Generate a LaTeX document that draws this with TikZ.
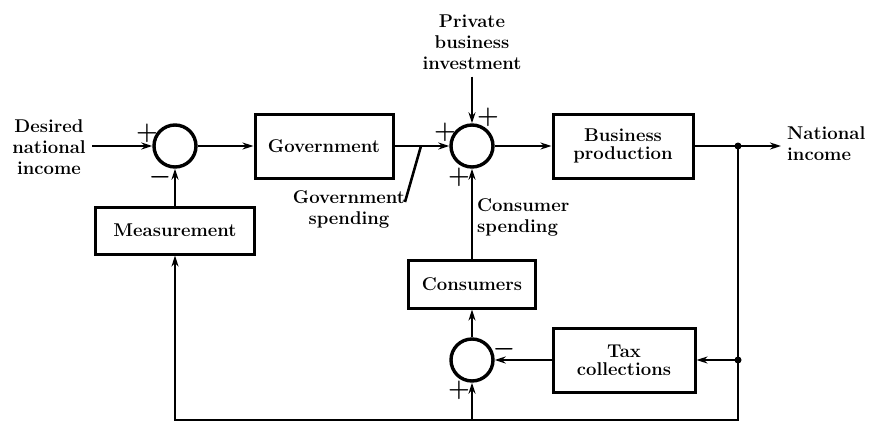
\documentclass[tikz,border=0pt]{standalone}
\usetikzlibrary{arrows.meta}
\begin{document}
\begin{tikzpicture}[x=1pt,y=-1pt,
  lbl/.style={font=\fontsize{18.5}{21}\selectfont\bfseries, align=center, inner sep=0pt},
  blk/.style={draw, line width=3pt, rectangle, inner sep=0pt, align=center,
              font=\fontsize{18.5}{18}\selectfont\bfseries},
  sumj/.style={draw, circle, line width=3.4pt, minimum size=42pt, inner sep=0pt},
  wire/.style={line width=2.6pt},
  flow/.style={wire, -{Stealth[length=11pt,width=7pt]}},
  sgn/.style={font=\fontsize{24}{24}\selectfont\boldmath, inner sep=0pt},
]
\useasboundingbox (0,0) rectangle (871,426);

% blocks and summing junctions
\node[sumj] (s1) at (175,146) {};
\node[blk, minimum width=138pt, minimum height=64pt] (gov) at (324,146) {Government};
\node[sumj] (s2) at (472,146) {};
\node[blk, minimum width=140pt, minimum height=64pt] (bus) at (623,146) {Business\\production};
\node[blk, minimum width=159pt, minimum height=47pt] (meas) at (175,230.5) {Measurement};
\node[blk, minimum width=127pt, minimum height=48pt] (cons) at (472,284) {Consumers};
\node[sumj] (s3) at (472,360) {};
\node[blk, minimum width=142pt, minimum height=64pt] (tax) at (624,360) {Tax\\collections};

% labels
\node[lbl] (din) at (49,147) {Desired\\national\\income};
\node[lbl] (pbi) at (472,42) {Private\\business\\investment};
\node[lbl, align=left, anchor=west] (ni) at (787,144) {National\\income};
\node[lbl] (gsl) at (349,209) {Government\\spending};
\node[lbl, align=left, anchor=west] (csl) at (477,217) {Consumer\\spending};

% signs at the junctions
\node[sgn] (s1p) at (147,133) {$+$};
\node[sgn] (s1m) at (160,177) {$-$};
\node[sgn] (s2l) at (445,132) {$+$};
\node[sgn] (s2t) at (488,117) {$+$};
\node[sgn] (s2b) at (459,177) {$+$};
\node[sgn] (s3m) at (504,349) {$-$};
\node[sgn] (s3p) at (459,390) {$+$};

% branch points and free ends
\coordinate (din0) at (92,146);
\coordinate (gs) at (421,146);
\coordinate (gsend) at (405,202);
\coordinate (nj) at (738,146);
\coordinate (niend) at (781,146);
\coordinate (tj) at (738,360);
\coordinate (br) at (738,420);
\coordinate (bl) at (175,420);
\coordinate (bj) at (472,420);

% forward path
\draw[flow] (din0) -- (s1.west);
\draw[flow] (s1.east) -- (gov.west);
\draw[flow] (gov.east) -- (s2.west);
\draw[wire] (gs) -- (gsend);
\draw[flow] ([yshift=-7pt]pbi.south) -- (s2.north);
\draw[flow] (s2.east) -- (bus.west);
\draw[wire] (bus.east) -- (nj);
\draw[flow] (nj) -- (niend);

% feedback loops
\draw[flow] (nj) -- (br) -- (bl) -- (meas.south);
\draw[flow] (meas.north) -- (s1.south);
\draw[flow] (tj) -- (tax.east);
\draw[flow] (tax.west) -- (s3.east);
\draw[flow] (bj) -- (s3.south);
\draw[flow] (s3.north) -- (cons.south);
\draw[flow] (cons.north) -- (s2.south);

\fill (nj) circle (3.5pt);
\fill (tj) circle (3.5pt);
\end{tikzpicture}
\end{document}
